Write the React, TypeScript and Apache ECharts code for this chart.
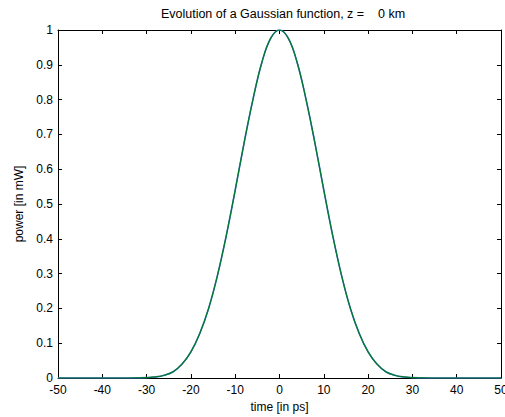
import React, { useEffect, useRef } from "react";
import * as echarts from "echarts";

const timePs = [-50, -40, -34, -32, -30, -28, -26, -24, -22, -20, -18, -16, -14, -12, -10, -8, -6, -4, -2, 0, 2, 4, 6, 8, 10, 12, 14, 16, 18, 20, 22, 24, 26, 28, 30, 32, 34, 40, 50];
const powerMw = [0, 0, 0, 0.0003, 0.001, 0.003, 0.008, 0.018, 0.04, 0.075, 0.128, 0.2, 0.295, 0.41, 0.54, 0.675, 0.8, 0.906, 0.976, 1.0, 0.976, 0.906, 0.8, 0.675, 0.54, 0.41, 0.295, 0.2, 0.128, 0.075, 0.04, 0.018, 0.008, 0.003, 0.001, 0.0003, 0, 0, 0];
const xTicks = [-50, 50, 10];
const yTicks = [0, 1, 0.1];

const FONT = "'Liberation Sans', Arial, sans-serif";

export default function App() {
  const ref = useRef<HTMLDivElement>(null);
  useEffect(() => {
    document.body.style.margin = "0";
    const chart = echarts.init(ref.current!, null, { renderer: "svg" });
    const data = timePs.map((t, i) => [t, powerMw[i]]);
    const axisCommon = {
      type: "value" as const,
      axisLine: { show: true, onZero: false, lineStyle: { color: "#000", width: 1 } },
      axisTick: { show: true, inside: true, length: 4, lineStyle: { color: "#000" } },
      splitLine: { show: false },
    };
    const txt = { fontFamily: FONT, fontSize: 12, color: "#000" };
    chart.setOption({
      animation: false,
      backgroundColor: "#fff",
      title: {
        text: "Evolution of a Gaussian function, z =    0 km",
        left: 278,
        textAlign: "center",
        top: 2,
        textStyle: { ...txt, fontSize: 12.5, fontWeight: "normal" },
      },
      grid: { left: 58, right: 4, top: 30, bottom: 39, outerBoundsMode: "none", containLabel: false },
      xAxis: [
        {
          ...axisCommon,
          position: "bottom",
          min: xTicks[0],
          max: xTicks[1],
          interval: xTicks[2],
          name: "time [in ps]",
          nameLocation: "middle",
          nameGap: 23,
          nameTextStyle: txt,
          axisLabel: { ...txt, margin: 6 },
        },
        {
          ...axisCommon,
          position: "top",
          min: xTicks[0],
          max: xTicks[1],
          interval: xTicks[2],
          axisLabel: { show: false },
        },
      ],
      yAxis: [
        {
          ...axisCommon,
          position: "left",
          min: yTicks[0],
          max: yTicks[1],
          interval: yTicks[2],
          name: "power [in mW]",
          nameLocation: "middle",
          nameGap: 29,
          nameTextStyle: txt,
          axisLabel: {
            ...txt,
            margin: 5,
            formatter: (v: number) => String(Math.round(v * 10) / 10),
          },
        },
        {
          ...axisCommon,
          position: "right",
          min: yTicks[0],
          max: yTicks[1],
          interval: yTicks[2],
          axisLabel: { show: false },
        },
      ],
      series: [
        {
          type: "line",
          data,
          smooth: 0.4,
          showSymbol: false,
          lineStyle: { color: "#4070d0", width: 1.6 },
          z: 3,
        },
        {
          type: "line",
          data,
          smooth: 0.4,
          showSymbol: false,
          lineStyle: { color: "#007a28", width: 1.2 },
          z: 4,
        },
      ],
    });
    return () => chart.dispose();
  }, []);
  return <div ref={ref} style={{ width: 505, height: 417 }} />;
}
